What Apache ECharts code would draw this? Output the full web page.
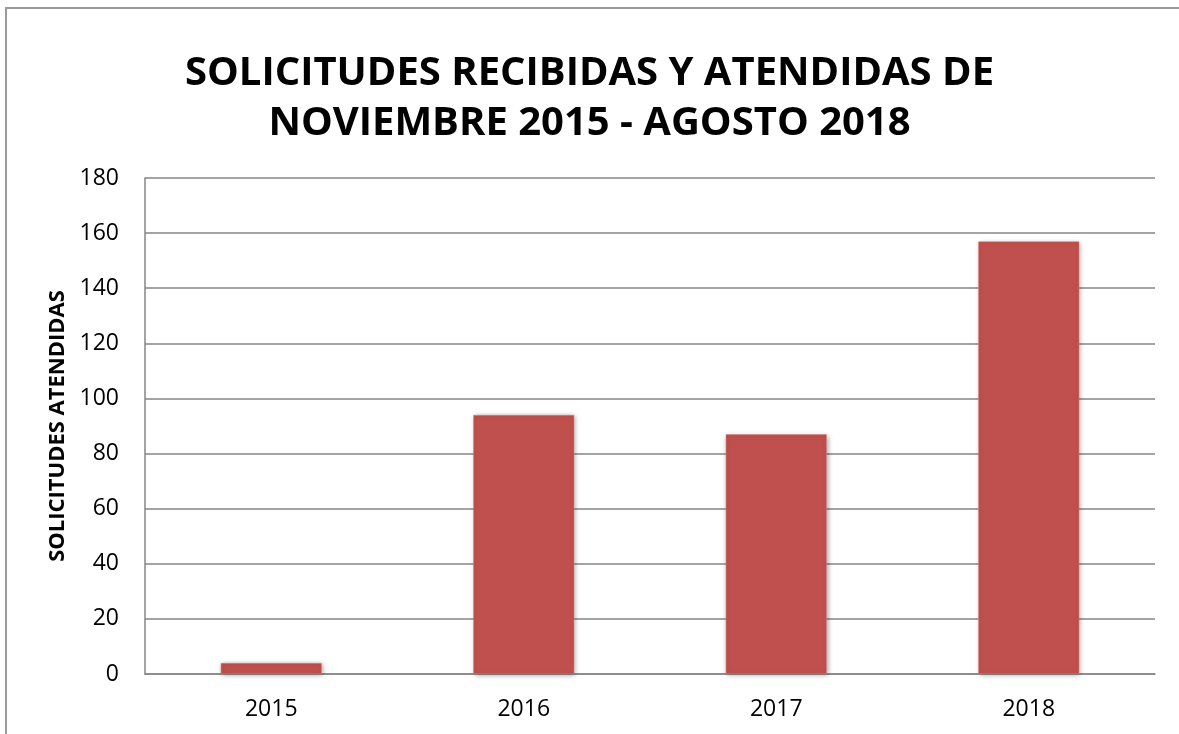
<!DOCTYPE html>
<html>
<head>
<meta charset="utf-8">
<script src="https://cdn.jsdelivr.net/npm/echarts@6/dist/echarts.min.js"></script>
<style>
  html, body { margin: 0; padding: 0; background: #fff; }
  #frame { position: absolute; left: 5px; top: 7px; width: 1190px; height: 740px; border: 2px solid #9a9a9a; box-sizing: border-box; }
  #main { position: absolute; left: 0; top: 0; width: 1179px; height: 734px; }
</style>
</head>
<body>
<div id="frame"></div>
<div id="main"></div>
<script>
var years = ['2015', '2016', '2017', '2018'];
var atendidas = [4, 94, 87, 157];
var yTicks = { min: 0, max: 180, interval: 20 };

var myChart = echarts.init(document.getElementById('main'));

// configuración del gráfico
var option = {
    animation: false,
    title: {
        text: 'SOLICITUDES RECIBIDAS Y ATENDIDAS DE\nNOVIEMBRE 2015 - AGOSTO 2018',
        left: 'center',
        top: 44,
        textStyle: {
            fontFamily: 'Open Sans',
            fontWeight: 'bold',
            fontSize: 40,
            lineHeight: 50,
            color: '#000'
        }
    },
    grid: {
        left: 145,
        right: 24,
        top: 178,
        bottom: 60
    },
    xAxis: {
        type: 'category',
        data: years,
        axisLine: { lineStyle: { color: '#868686', width: 1.5 } },
        axisTick: { show: false },
        axisLabel: {
            color: '#000',
            fontFamily: 'Open Sans',
            fontSize: 23,
            margin: 24
        }
    },
    yAxis: {
        type: 'value',
        min: yTicks.min,
        max: yTicks.max,
        interval: yTicks.interval,
        name: 'SOLICITUDES ATENDIDAS',
        nameLocation: 'middle',
        nameGap: 72,
        nameRotate: 90,
        nameTextStyle: {
            color: '#000',
            fontFamily: 'Open Sans',
            fontWeight: 'bold',
            fontSize: 22
        },
        axisLine: { show: true, lineStyle: { color: '#868686', width: 1.5 } },
        axisTick: { show: false },
        splitLine: { lineStyle: { color: '#868686', width: 1.5 } },
        axisLabel: {
            color: '#000',
            fontFamily: 'Open Sans',
            fontSize: 23,
            margin: 26
        }
    },
    series: [{
        name: 'Solicitudes atendidas',
        type: 'bar',
        data: atendidas,
        barWidth: '40%',
        itemStyle: {
            color: '#C0504D',
            borderColor: '#d98a88',
            borderWidth: 0.5,
            shadowColor: 'rgba(0,0,0,0.35)',
            shadowBlur: 5,
            shadowOffsetX: 1,
            shadowOffsetY: 1
        }
    }]
};
myChart.setOption(option);
</script>
</body>
</html>
